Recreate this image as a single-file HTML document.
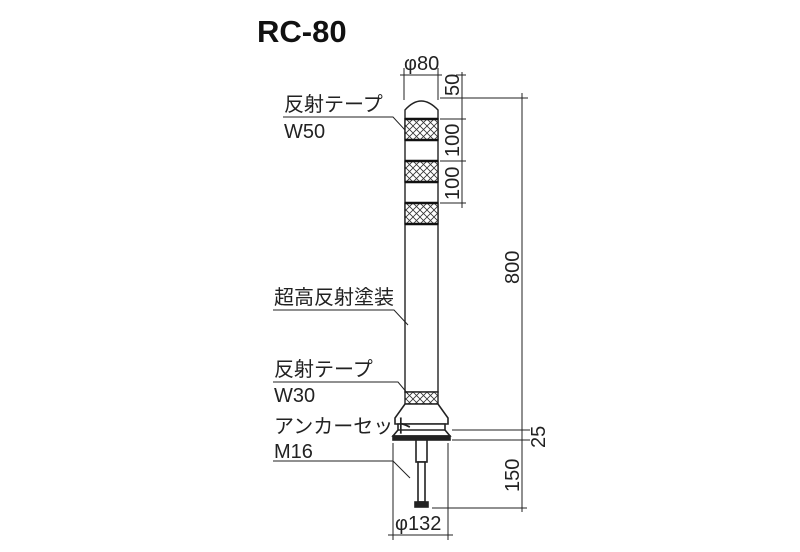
<!DOCTYPE html>
<html><head><meta charset="utf-8"><style>
body{margin:0;background:#fff}
svg text{font-family:"Liberation Sans","Noto Sans CJK JP",sans-serif;fill:#222}
</style></head><body>
<svg width="800" height="547" viewBox="0 0 800 547" xmlns="http://www.w3.org/2000/svg">
<defs>
<pattern id="h" width="7" height="7" patternUnits="userSpaceOnUse">
<rect width="7" height="7" fill="#fff"/>
<path d="M0 0L7 7M7 0L0 7" stroke="#333" stroke-width="0.8"/>
</pattern>
</defs>
<text x="257" y="42" font-size="31" font-weight="bold" style="fill:#111">RC-80</text>

<g stroke="#222" fill="none" stroke-width="1.4">
<rect x="405" y="119" width="33" height="273" fill="#fff"/>
<path d="M405 119 L405 110 Q421 92 438 110 L438 119" fill="#fff"/>
<rect x="405" y="119" width="33" height="21" fill="url(#h)"/>
<rect x="405" y="161" width="33" height="21" fill="url(#h)"/>
<rect x="405" y="203" width="33" height="21" fill="url(#h)"/>
<rect x="405" y="392" width="33" height="12" fill="url(#h)"/>
</g>
<g stroke="#111" stroke-width="2.5">
<line x1="405" y1="119" x2="438" y2="119"/>
<line x1="405" y1="140" x2="438" y2="140"/>
<line x1="405" y1="161" x2="438" y2="161"/>
<line x1="405" y1="182" x2="438" y2="182"/>
<line x1="405" y1="203" x2="438" y2="203"/>
<line x1="405" y1="224" x2="438" y2="224"/>
</g>
<g stroke="#222" fill="#fff" stroke-width="1.6">
<path d="M405 404 L438 404 L448 418 L448 424 L395 424 L395 418 Z"/>
<path d="M398 424 L445 424 L445 430 L450 436 L393 436 L398 430 Z"/>
<line x1="398" y1="430" x2="445" y2="430"/>
<rect x="393" y="436" width="57" height="4" fill="#222"/>
<rect x="416" y="440" width="11" height="22"/>
<rect x="418" y="462" width="7" height="40"/>
<rect x="415" y="502" width="13" height="5" fill="#222"/>
</g>

<g stroke="#222" stroke-width="1" fill="none">
<line x1="404" y1="68" x2="404" y2="100"/><line x1="438" y1="68" x2="438" y2="100"/>
<line x1="400" y1="75" x2="442" y2="75"/>
<line x1="462" y1="72" x2="462" y2="208"/>
<line x1="456" y1="75" x2="466" y2="75"/>
<line x1="440" y1="98" x2="528" y2="98"/>
<line x1="440" y1="119" x2="466" y2="119"/>
<line x1="440" y1="161" x2="466" y2="161"/>
<line x1="440" y1="203" x2="466" y2="203"/>
<line x1="522" y1="93" x2="522" y2="512"/>
<line x1="452" y1="430" x2="530" y2="430"/>
<line x1="452" y1="440" x2="530" y2="440"/>
<line x1="432" y1="508" x2="527" y2="508"/>
<line x1="393" y1="443" x2="393" y2="540"/><line x1="448" y1="443" x2="448" y2="540"/>
<line x1="388" y1="535" x2="453" y2="535"/>
<polyline points="283,117 393,117 405,130"/>
<polyline points="273,310 394,310 408,325"/>
<polyline points="273,382 398,382 408,394"/>
<polyline points="273,461 393,461 410,478"/>
</g>

<g font-size="20">
<text x="404" y="70">φ80</text>
<text transform="translate(459,96) rotate(-90)">50</text>
<text transform="translate(459,157) rotate(-90)">100</text>
<text transform="translate(459,200) rotate(-90)">100</text>
<text transform="translate(519,284) rotate(-90)">800</text>
<text transform="translate(545,448) rotate(-90)">25</text>
<text transform="translate(519,492) rotate(-90)">150</text>
<text x="395" y="530">φ132</text>
<text x="284" y="111">反射テープ</text>
<text x="284" y="138">W50</text>
<text x="274" y="304">超高反射塗装</text>
<text x="274" y="376">反射テープ</text>
<text x="274" y="402">W30</text>
<text x="274" y="433">アンカーセット</text>
<text x="274" y="458">M16</text>
</g>
</svg>
</body></html>
